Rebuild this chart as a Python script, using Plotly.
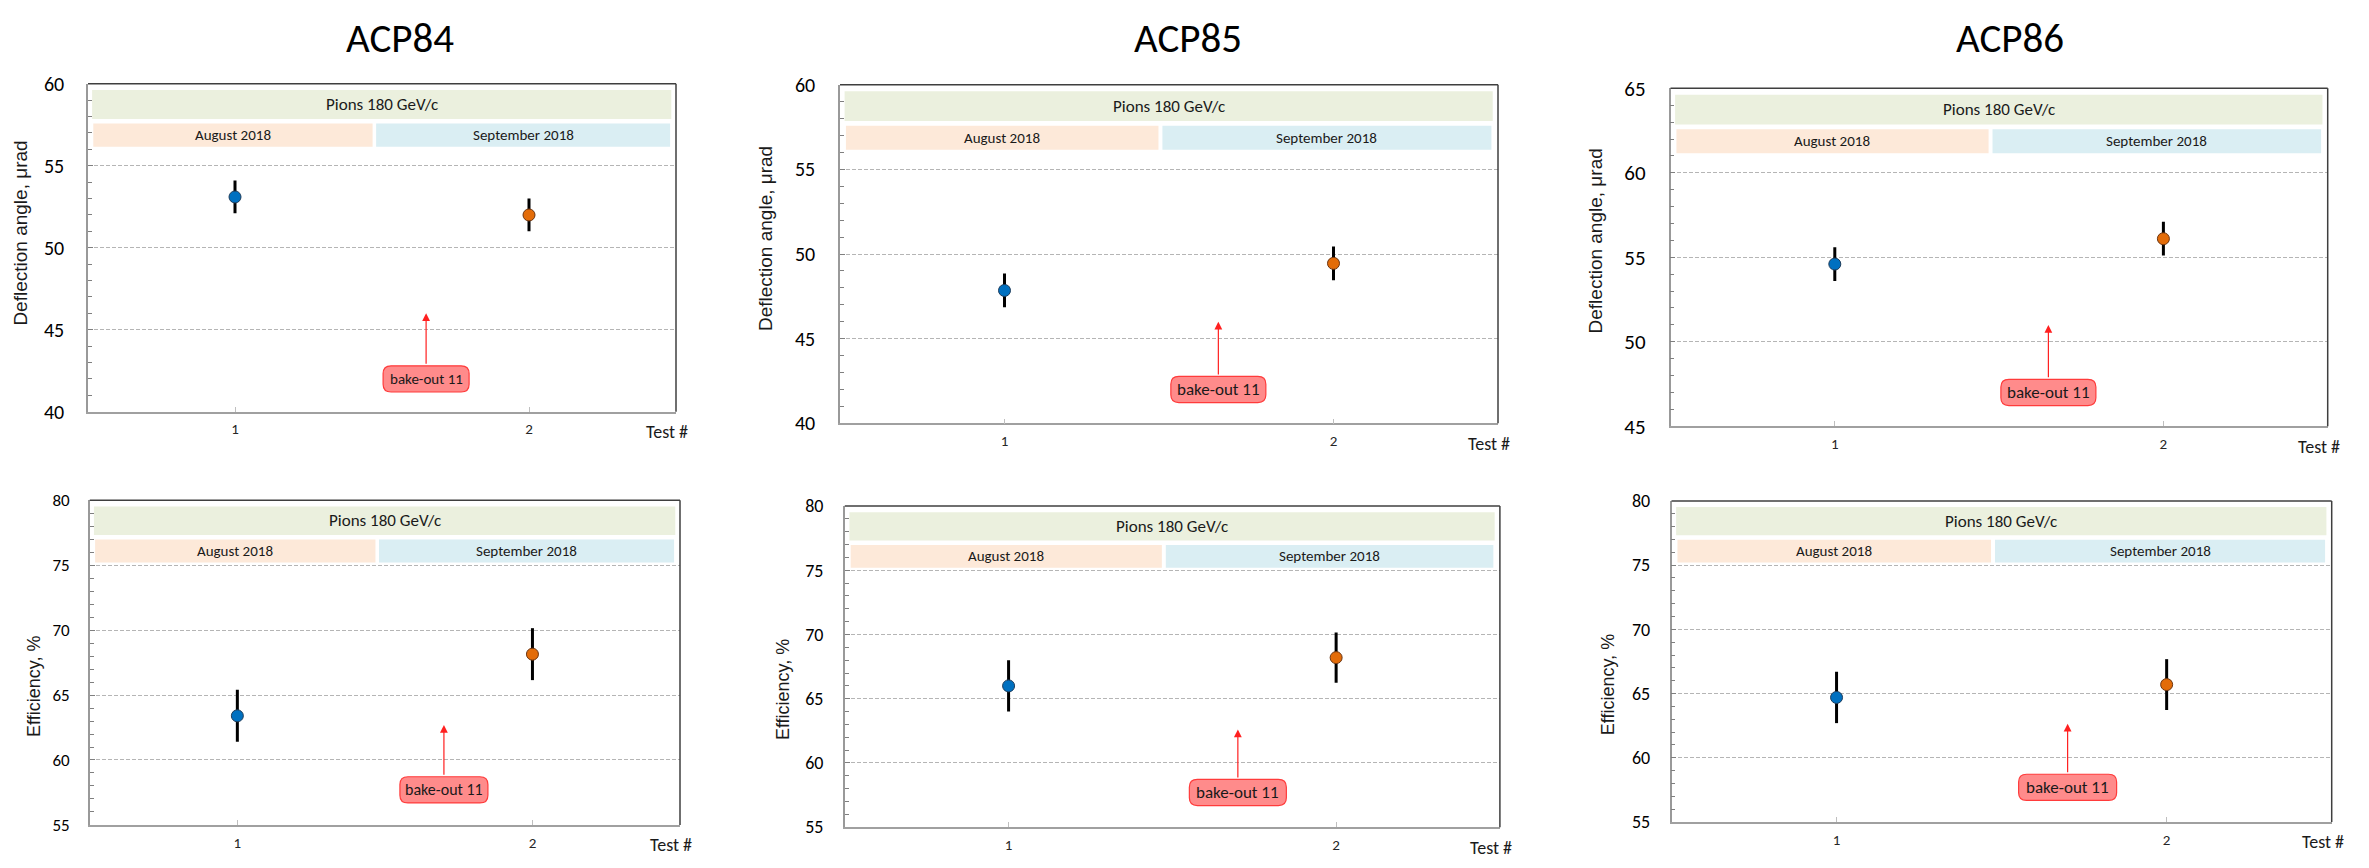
import plotly.graph_objects as go

W, H = 2369, 868

# ---------------- data ----------------
crystals = ["ACP84", "ACP85", "ACP86"]
tests = [1, 2]
test_labels = ["1", "2"]
deflection = [[53.1, 52.0], [47.85, 49.45], [54.6, 56.1]]
deflection_err = [[1.0, 1.0], [1.0, 1.0], [1.0, 1.0]]
efficiency = [[63.4, 68.15], [66.0, 68.2], [64.7, 65.7]]
efficiency_err = [[2.0, 2.0], [2.0, 1.95], [2.0, 1.98]]
deflection_range = [[40, 60], [40, 60], [45, 65]]
efficiency_range = [[55, 80], [55, 80], [55, 80]]
bakeout_label = "bake-out 11"
bakeout_x_defl = [1.65, 1.65, 1.65]
bakeout_x_eff = [1.7, 1.7, 1.7]
bakeout_head_defl = [46.0, 46.0, 51.0]
bakeout_box_defl = [42.0, 42.0, 47.0]
bakeout_head_eff = [62.7, 62.6, 62.65]
bakeout_box_eff = [57.7, 57.7, 57.7]
beam_label = "Pions 180 GeV/c"
period_labels = ["August 2018", "September 2018"]
y_titles = ["Deflection angle, \u03bcrad", "Efficiency, %"]
x_title = "Test #"

# ---------------- styling / layout ----------------
point_colors = ["#0070C0", "#E36C09"]
point_edges = ["#1F3D5C", "#6B3410"]
CAL = "Carlito, Lato, sans-serif"
ARI = "Liberation Sans, Arial, sans-serif"

# panel boxes in pixels: left, right, top, bottom
boxes = [
    (88, 676, 73, 411), (840, 1498, 74, 423), (1670.5, 2327.7, 77.7, 426),
    (89.8, 680, 502.3, 837), (844.8, 1499.9, 508.3, 839.3), (1671.5, 2331.7, 503, 834),
]
ytick_font = [20, 20, 21, 17, 18, 18]
ytick_standoff = [18, 19, 19, 15, 16, 16]
ytitle_px = [(20.4, 227), (765, 232), (1595.5, 235), (34.7, 694), (783, 698), (1608, 693)]
ytitle_size = [19, 19, 19, 18, 18, 18]
title_px = [(400, 26), (1188, 26), (2010, 26)]
bake_w = [86, 95, 95, 88, 97, 98]
bake_h = [27, 27, 27, 27, 27, 27]
bake_font = [15, 17, 17, 16, 17, 17]

# header bands, as fractions of each plot box (x from left, y from top)
bands = [
    (0.007, 0.992, 0.019, 0.107, "#EBF0DE", beam_label, 17),
    (0.009, 0.484, 0.121, 0.192, "#FDE9D9", period_labels[0], 15),
    (0.490, 0.990, 0.121, 0.192, "#DAEEF3", period_labels[1], 15),
]


def px2paper(px, py):
    return px / W, 1 - py / H


fig = go.Figure()
shapes = []
annotations = []
layout = {}

for i in range(6):
    r, c = divmod(i, 3)
    left, right, top, bottom = boxes[i]
    bw, bh = right - left, bottom - top
    xa = "x" if i == 0 else f"x{i+1}"
    ya = "y" if i == 0 else f"y{i+1}"
    xkey = "xaxis" if i == 0 else f"xaxis{i+1}"
    ykey = "yaxis" if i == 0 else f"yaxis{i+1}"
    if r == 0:
        vals, errs, yr = deflection[c], deflection_err[c], deflection_range[c]
        bx, bhead, bbox = bakeout_x_defl[c], bakeout_head_defl[c], bakeout_box_defl[c]
    else:
        vals, errs, yr = efficiency[c], efficiency_err[c], efficiency_range[c]
        bx, bhead, bbox = bakeout_x_eff[c], bakeout_head_eff[c], bakeout_box_eff[c]

    fig.add_trace(go.Scatter(
        x=tests, y=vals, mode="markers", xaxis=xa, yaxis=ya, showlegend=False,
        marker=dict(size=12, color=point_colors, line=dict(width=1, color=point_edges)),
        error_y=dict(type="data", array=errs, visible=True, color="black", thickness=3, width=0),
    ))

    layout[xkey] = dict(
        domain=[left / W, right / W], anchor=ya, range=[0.5, 2.5],
        tickvals=tests, ticktext=test_labels, ticks="inside", ticklen=5, tickcolor="#BFBFBF",
        tickfont=dict(family=CAL, size=15, color="#262626"), ticklabelstandoff=3,
        showgrid=False, zeroline=False, showline=True, linecolor="#A0A0A0", linewidth=1.5,
        fixedrange=True,
    )
    layout[ykey] = dict(
        domain=[1 - bottom / H, 1 - top / H], anchor=xa, range=yr, dtick=5,
        ticks="inside", ticklen=5, tickcolor="#7F7F7F", tickwidth=1,
        minor=dict(dtick=1, ticks="inside", ticklen=4, tickcolor="#7F7F7F", showgrid=False),
        tickfont=dict(family=CAL, size=ytick_font[i], color="#000000"),
        ticklabelstandoff=ytick_standoff[i],
        showgrid=True, gridcolor="#B5B5B5", griddash="4px,2px", gridwidth=1,
        zeroline=False, showline=True, linecolor="#999999", linewidth=1.5,
        fixedrange=True,
    )

    # darker top and right frame lines
    pl, pt = px2paper(left, top)
    pr, pb = px2paper(right, bottom)
    shapes.append(dict(type="line", xref="paper", yref="paper", x0=pl, x1=pr, y0=pt, y1=pt,
                       line=dict(color="#3F3F3F", width=1.5)))
    shapes.append(dict(type="line", xref="paper", yref="paper", x0=pr, x1=pr, y0=pb, y1=pt,
                       line=dict(color="#3F3F3F", width=1.5)))

    # header bands (paper coordinates from the pixel box)
    for fx0, fx1, fy0, fy1, col, txt, fs in bands:
        X0, Y1 = px2paper(left + fx0 * bw, top + fy0 * bh)
        X1, Y0 = px2paper(left + fx1 * bw, top + fy1 * bh)
        shapes.append(dict(type="rect", xref="paper", yref="paper",
                           x0=X0, x1=X1, y0=Y0, y1=Y1, fillcolor=col, line=dict(width=0),
                           layer="below"))
        annotations.append(dict(text=txt, xref="paper", yref="paper",
                                x=(X0 + X1) / 2, y=(Y0 + Y1) / 2, showarrow=False,
                                xanchor="center", yanchor="middle",
                                font=dict(family=CAL, size=fs, color="#1A1A1A")))

    # bake-out callout: rounded box + arrow
    pxx = bw / 2.0
    pxy = bh / (yr[1] - yr[0])
    hw = bake_w[i] / 2 / pxx
    hh = bake_h[i] / 2 / pxy
    rx = 8 / pxx
    ry = 8 / pxy
    x0, x1 = bx - hw, bx + hw
    y0, y1 = bbox - hh, bbox + hh
    path = (f"M {x0+rx},{y0} L {x1-rx},{y0} Q {x1},{y0} {x1},{y0+ry} "
            f"L {x1},{y1-ry} Q {x1},{y1} {x1-rx},{y1} L {x0+rx},{y1} "
            f"Q {x0},{y1} {x0},{y1-ry} L {x0},{y0+ry} Q {x0},{y0} {x0+rx},{y0} Z")
    shapes.append(dict(type="path", xref=xa, yref=ya, path=path,
                       fillcolor="#FF8B8B", line=dict(color="#FF3B3B", width=1.2)))
    annotations.append(dict(text=" ", xref=xa, yref=ya, x=bx, y=bhead,
                            axref=xa, ayref=ya, ax=bx, ay=y1, showarrow=True,
                            arrowhead=2, arrowsize=1.3, arrowwidth=1.2, arrowcolor="#FF2020",
                            font=dict(size=1)))
    annotations.append(dict(text=bakeout_label, xref=xa, yref=ya, x=bx, y=bbox,
                            showarrow=False, font=dict(family=CAL, size=bake_font[i], color="#1A1A1A")))

    # "Test #" label
    tx, ty = px2paper(right - 9, bottom + 21)
    annotations.append(dict(text=x_title, xref="paper", yref="paper",
                            x=tx, y=ty, showarrow=False,
                            xanchor="center", yanchor="middle",
                            font=dict(family=CAL, size=18, color="#1A1A1A")))

    # y title
    tx, ty = px2paper(*ytitle_px[i])
    annotations.append(dict(text=y_titles[r], xref="paper", yref="paper",
                            x=tx, y=ty, textangle=-90, showarrow=False,
                            xanchor="center", yanchor="middle",
                            font=dict(family=ARI, size=ytitle_size[i], color="#1A1A1A")))

for c in range(3):
    tx, ty = px2paper(*title_px[c])
    annotations.append(dict(text=crystals[c], xref="paper", yref="paper",
                            x=tx, y=ty, showarrow=False,
                            xanchor="center", yanchor="middle",
                            font=dict(family=CAL, size=41, color="#000000")))

fig.update_layout(
    width=W, height=H, margin=dict(l=0, r=0, t=0, b=0),
    paper_bgcolor="white", plot_bgcolor="white",
    shapes=shapes, annotations=annotations, showlegend=False,
    **layout,
)

fig.write_html("out.html", config={"displayModeBar": False},
               post_script="document.body.style.margin='0px';document.body.style.overflow='hidden';")
